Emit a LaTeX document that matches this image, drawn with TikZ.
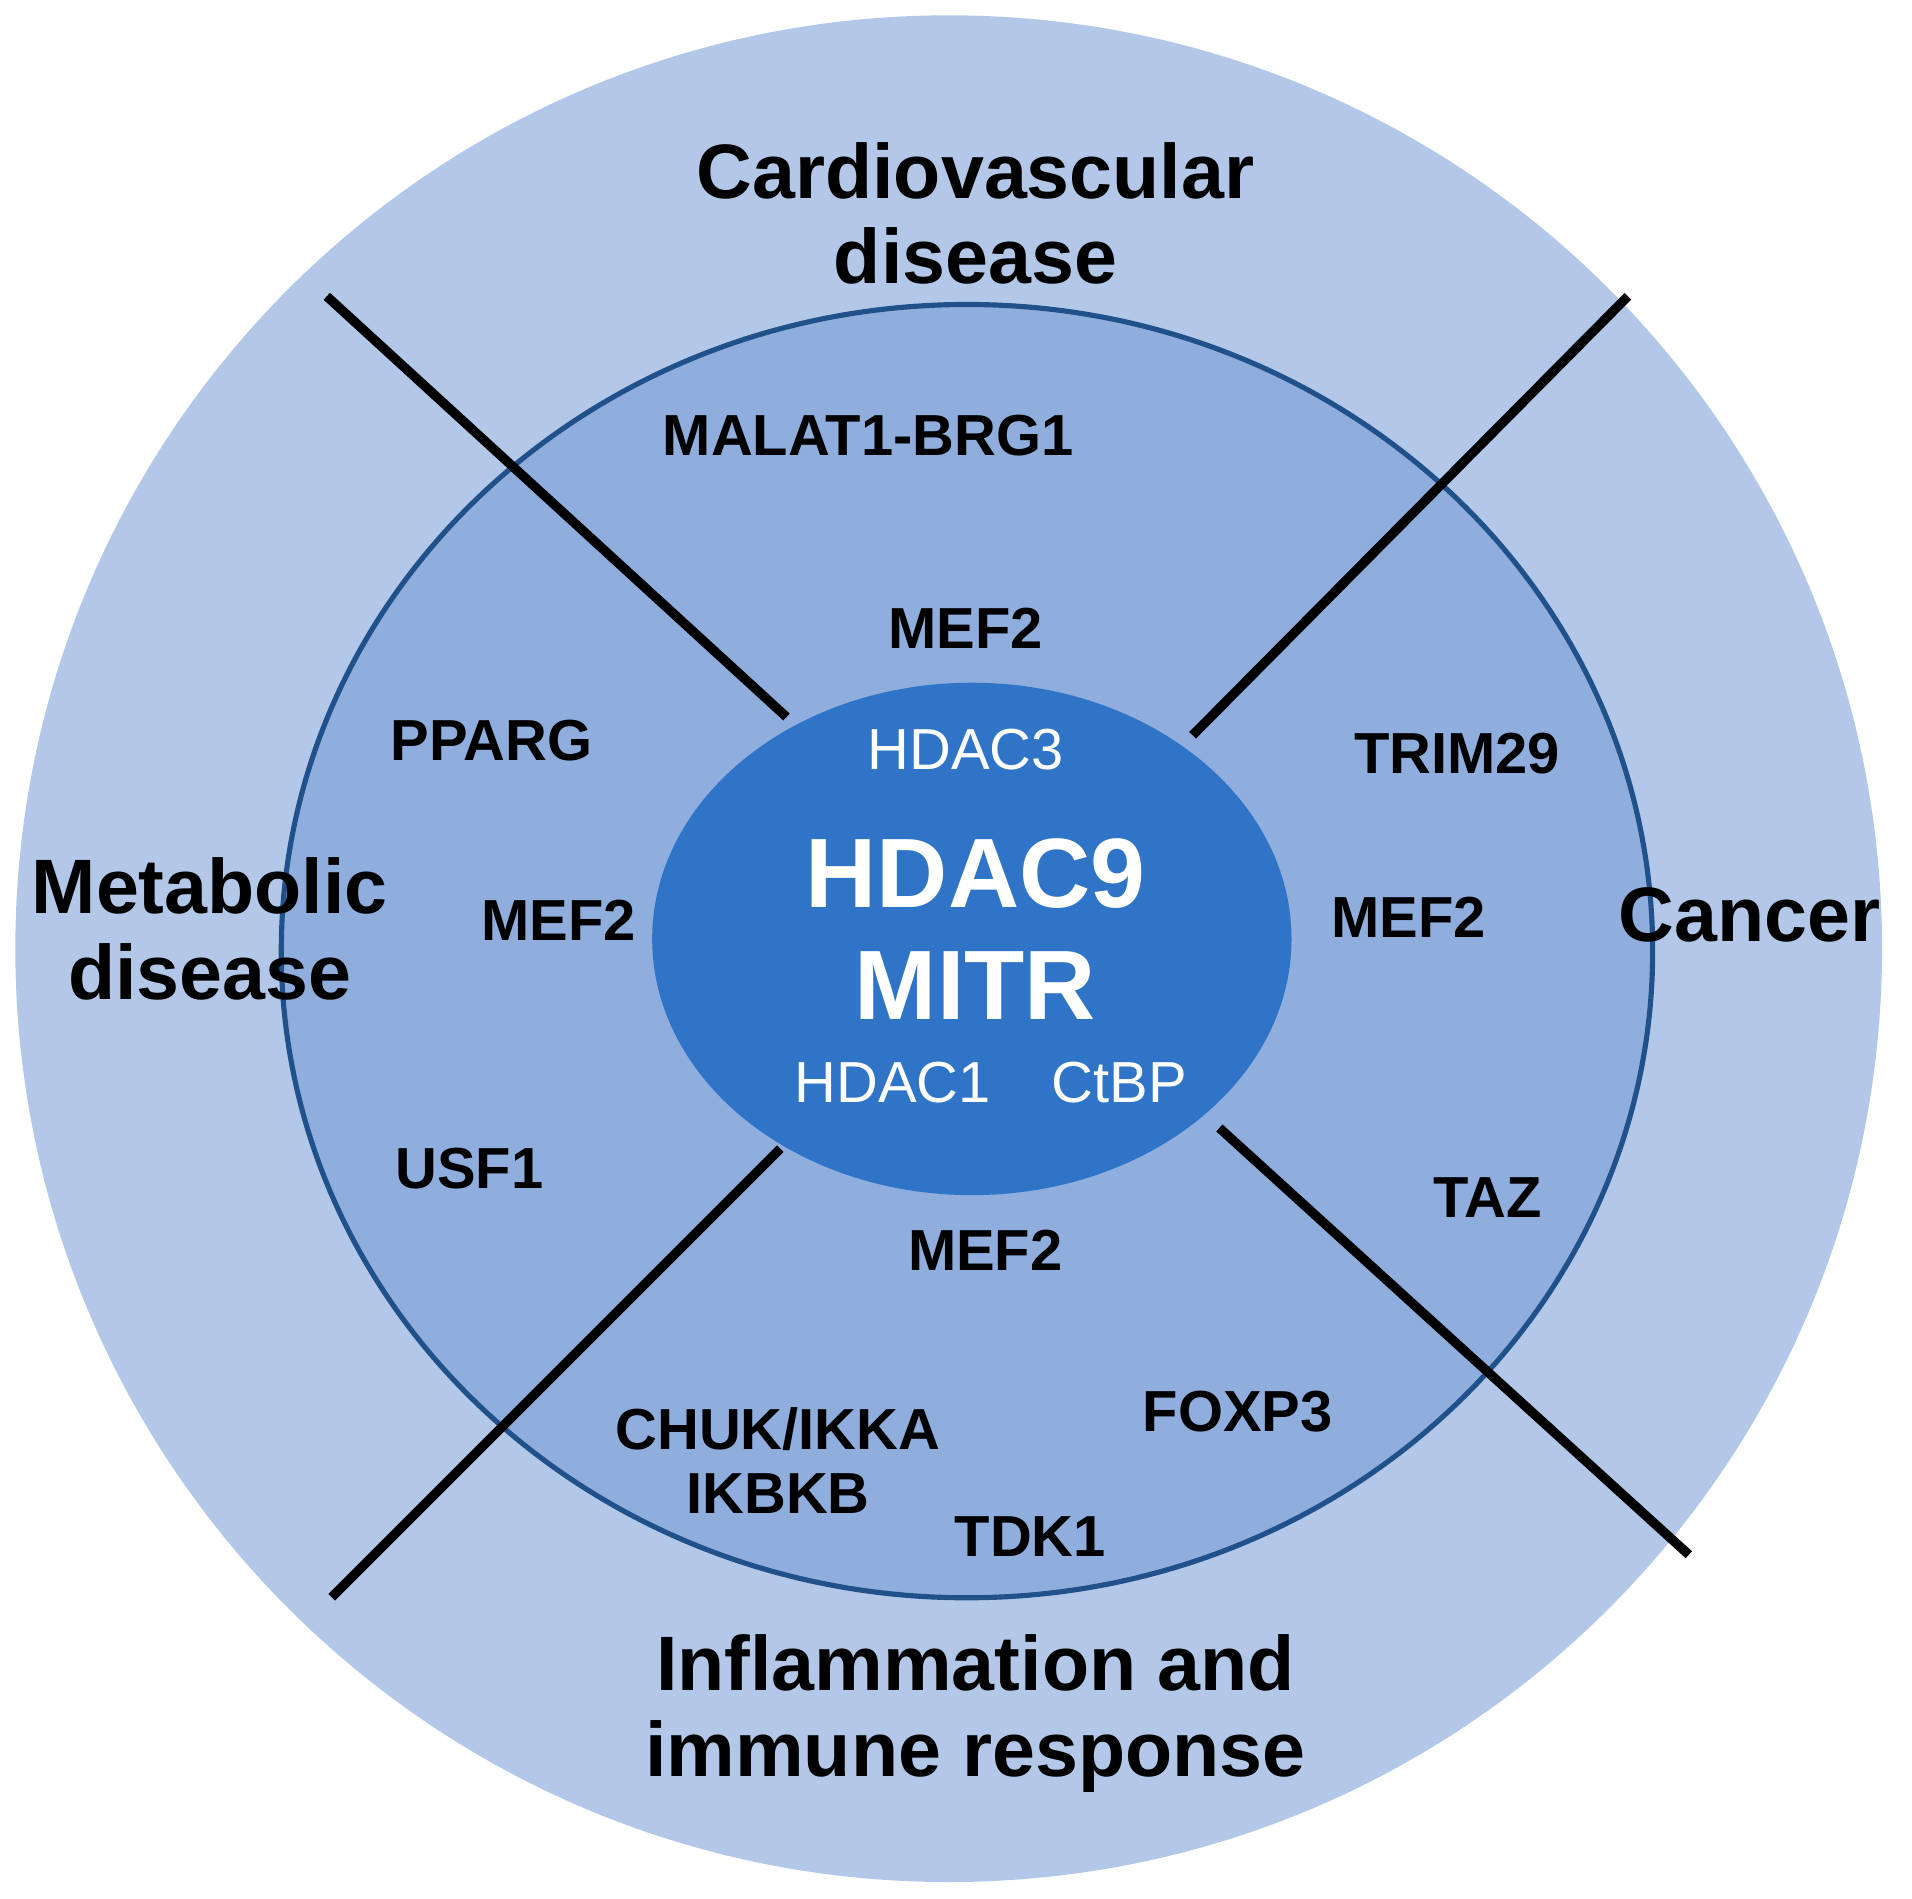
\documentclass[tikz,border=0pt]{standalone}
\usepackage{fontspec}
\setmainfont{Liberation Sans}
\usetikzlibrary{shapes.geometric}
\begin{document}
\begin{tikzpicture}[x=0.01cm,y=-0.01cm,
  big/.style={font=\fontsize{18}{20}\selectfont\bfseries,align=center},
  gene/.style={font=\fontsize{13.5}{15}\selectfont\bfseries},
  wgene/.style={font=\fontsize{13.5}{15}\selectfont,text=white},
  sep/.style={line width=2.2pt,black}]
\useasboundingbox (0,0) rectangle (1568,1557);
\definecolor{outerc}{HTML}{B3C8E8}
\definecolor{midc}{HTML}{8FAEDD}
\definecolor{innc}{HTML}{2F74C6}
\node[circle,fill=outerc,minimum size=15.3cm,inner sep=0] (outer) at (778,778) {};
\node[ellipse,draw=innc!70!black,line width=1.2pt,fill=midc,minimum width=11.24cm,minimum height=10.6cm,inner sep=0] (mid) at (793,780) {};
\coordinate (a1) at (268,243); \coordinate (a2) at (645,588);
\coordinate (b1) at (1335,243); \coordinate (b2) at (978,603);
\coordinate (c1) at (272,1310); \coordinate (c2) at (640,942);
\coordinate (d1) at (1000,925); \coordinate (d2) at (1385,1275);
\draw[sep] (a1) -- (a2); \draw[sep] (b1) -- (b2);
\draw[sep] (c1) -- (c2); \draw[sep] (d1) -- (d2);
\node[ellipse,fill=innc,minimum width=5.24cm,minimum height=4.2cm,inner sep=0] (inner) at (797,770) {};
\node[big] (cv) at (800,175) {Cardiovascular\\disease};
\node[big] (met) at (172,762) {Metabolic\\disease};
\node[big] (can) at (1435,750) {Cancer};
\node[big] (inf) at (800,1405) {Inflammation and\\immune response};
\node[gene] (g1) at (712,357) {MALAT1-BRG1};
\node[gene] (g2) at (792,515) {MEF2};
\node[gene] (g3) at (403,607) {PPARG};
\node[gene] (g4) at (458,755) {MEF2};
\node[gene] (g5) at (385,958) {USF1};
\node[gene] (g6) at (1195,618) {TRIM29};
\node[gene] (g7) at (1155,752) {MEF2};
\node[gene] (g8) at (1220,982) {TAZ};
\node[gene] (g9) at (808,1025) {MEF2};
\node[gene,align=center] (g10) at (638,1198) {CHUK/IKKA\\IKBKB};
\node[gene] (g11) at (1015,1158) {FOXP3};
\node[gene] (g12) at (845,1260) {TDK1};
\node[wgene] (h3) at (792,615) {HDAC3};
\node[font=\fontsize{23}{26}\selectfont\bfseries,text=white,align=center] (h9) at (800,762) {HDAC9\\MITR};
\node[wgene] (h1) at (732,888) {HDAC1};
\node[wgene] (ct) at (918,888) {CtBP};
\end{tikzpicture}
\end{document}
